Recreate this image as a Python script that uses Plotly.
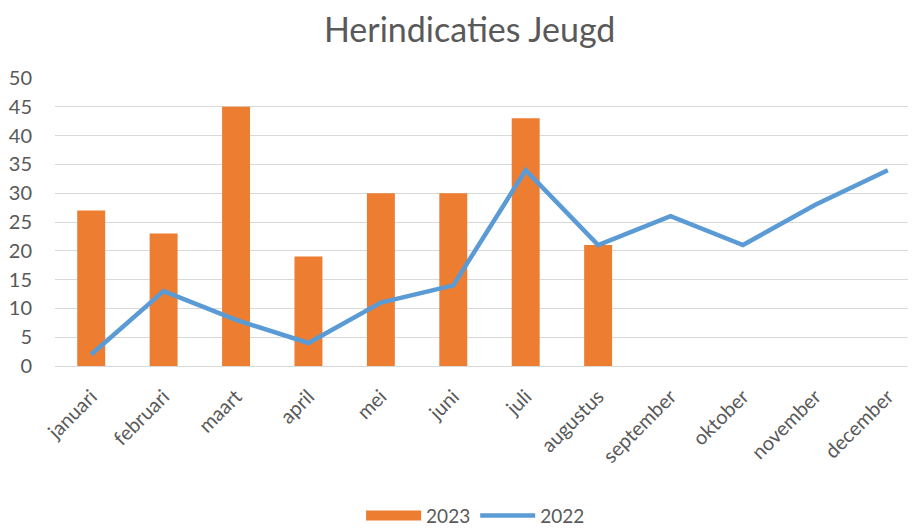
import plotly.graph_objects as go

months = ["januari", "februari", "maart", "april", "mei", "juni", "juli",
          "augustus", "september", "oktober", "november", "december"]
values_2023 = [27, 23, 45, 19, 30, 30, 43, 21, None, None, None, None]
values_2022 = [2, 13, 8, 4, 11, 14, 34, 21, 26, 21, 28, 34]
y_ticks = [0, 5, 10, 15, 20, 25, 30, 35, 40, 45, 50]

ORANGE = "#ED7D31"
BLUE = "#5B9BD5"
GREY = "#595959"

fig = go.Figure()
fig.add_trace(go.Bar(x=months, y=values_2023, name="2023", showlegend=False,
                     legendgroup="2023",
                     marker=dict(color=ORANGE, line=dict(width=0))))
# legend entry for 2023 drawn as a wide swatch (as in the original)
fig.add_trace(go.Scatter(x=[months[0]], y=[None], name="2023", mode="lines",
                         legendgroup="2023",
                         line=dict(color=ORANGE, width=12)))
fig.add_trace(go.Scatter(x=months, y=values_2022, name="2022", mode="lines",
                         line=dict(color=BLUE, width=4.5)))

fig.update_layout(
    width=916, height=528,
    paper_bgcolor="white", plot_bgcolor="white",
    font=dict(family="Lato, 'Open Sans', sans-serif", color=GREY, size=19),
    title=dict(text="Herindicaties Jeugd", x=0.504, xanchor="center", y=0.958, yanchor="middle",
               font=dict(size=34, color=GREY)),
    margin=dict(l=47, r=0, t=70, b=170, autoexpand=False),
    bargap=0.614,
    showlegend=True,
    legend=dict(orientation="h", x=0.484, xanchor="center", y=-0.52, yanchor="middle",
                font=dict(size=19, color=GREY), traceorder="normal", itemwidth=55),
    xaxis=dict(tickangle=-45, showgrid=False, showline=True, linecolor="#D9D9D9",
               linewidth=1, ticks="", automargin=False, range=[-0.5, 11.5],
               ticklabelstandoff=10,
               tickfont=dict(size=20, color=GREY)),
    yaxis=dict(range=[0, 50], tickvals=y_ticks, showgrid=True, gridcolor="#D9D9D9",
               gridwidth=1, zeroline=False, showline=False, ticks="",
               automargin=False, ticklabelstandoff=22,
               tickfont=dict(size=20, color=GREY)),
)

fig.write_html("out.html")
